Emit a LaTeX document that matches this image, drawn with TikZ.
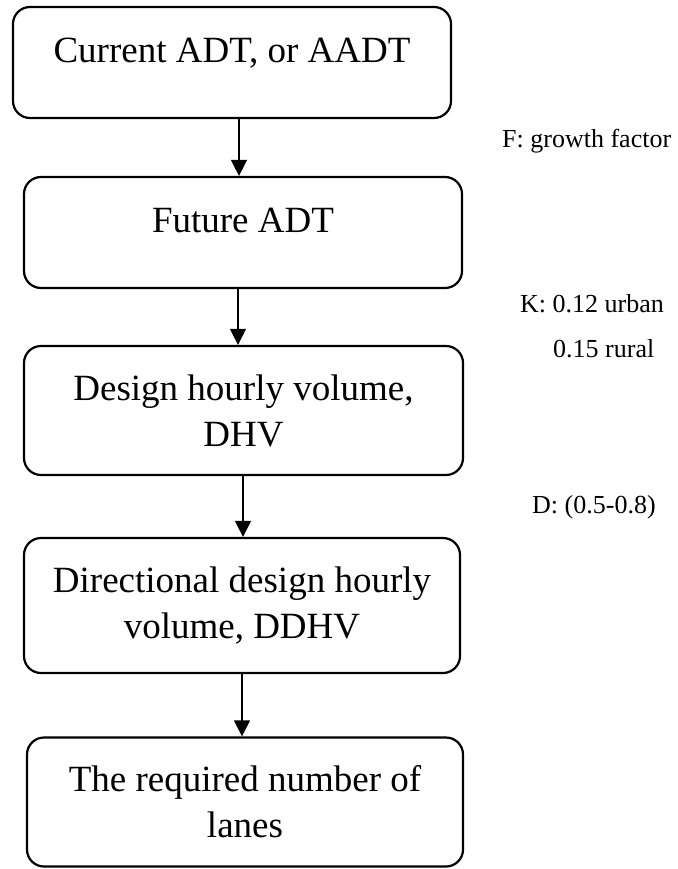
\documentclass[tikz,border=0pt]{standalone}
\usepackage{fontspec}
\setmainfont{Liberation Serif}
\usetikzlibrary{arrows.meta}
\begin{document}
\begin{tikzpicture}[x=1pt,y=-1pt,
  flowbox/.style={draw, line width=2.2pt, rounded corners=17pt, align=center,
    font=\fontsize{37}{46}\selectfont, inner sep=0pt},
  onebox/.style={flowbox, text height=26pt, text depth=26pt},
  flowarrow/.style={draw, line width=1.2pt, -{Triangle[width=16pt,length=16pt]}},
  sidenote/.style={anchor=base west, font=\fontsize{26}{30}\selectfont, inner sep=0pt}]
\useasboundingbox (0,0) rectangle (677,869);

\node[onebox, minimum width=438pt, minimum height=111pt] (b1) at (232,62.5) {Current ADT, or AADT};
\node[onebox, minimum width=438pt, minimum height=111pt] (b2) at (243,232.5) {Future ADT};
\node[flowbox, minimum width=439pt, minimum height=129pt] (b3) at (243.5,410.5) {Design hourly volume,\\DHV};
\node[flowbox, minimum width=436pt, minimum height=135pt] (b4) at (242,605.5) {Directional design hourly\\volume, DDHV};
\node[flowbox, minimum width=436pt, minimum height=129pt] (b5) at (245,802) {The required number of\\lanes};

\draw[flowarrow] ([xshift=7pt]b1.south) -- ([xshift=-4pt]b2.north);
\draw[flowarrow] ([xshift=-5pt]b2.south) -- ([xshift=-5.5pt]b3.north);
\draw[flowarrow] ([xshift=-0.5pt]b3.south) -- ([xshift=1pt]b4.north);
\draw[flowarrow] ([xshift=0pt]b4.south) -- ([xshift=-3pt]b5.north);

\node[sidenote] (nf) at (502,148) {F: growth factor};
\node[sidenote] (nk) at (520,312) {K: 0.12 urban};
\node[sidenote] (nr) at (553,357) {0.15 rural};
\node[sidenote] (nd) at (532,513) {D: (0.5-0.8)};
\end{tikzpicture}
\end{document}
